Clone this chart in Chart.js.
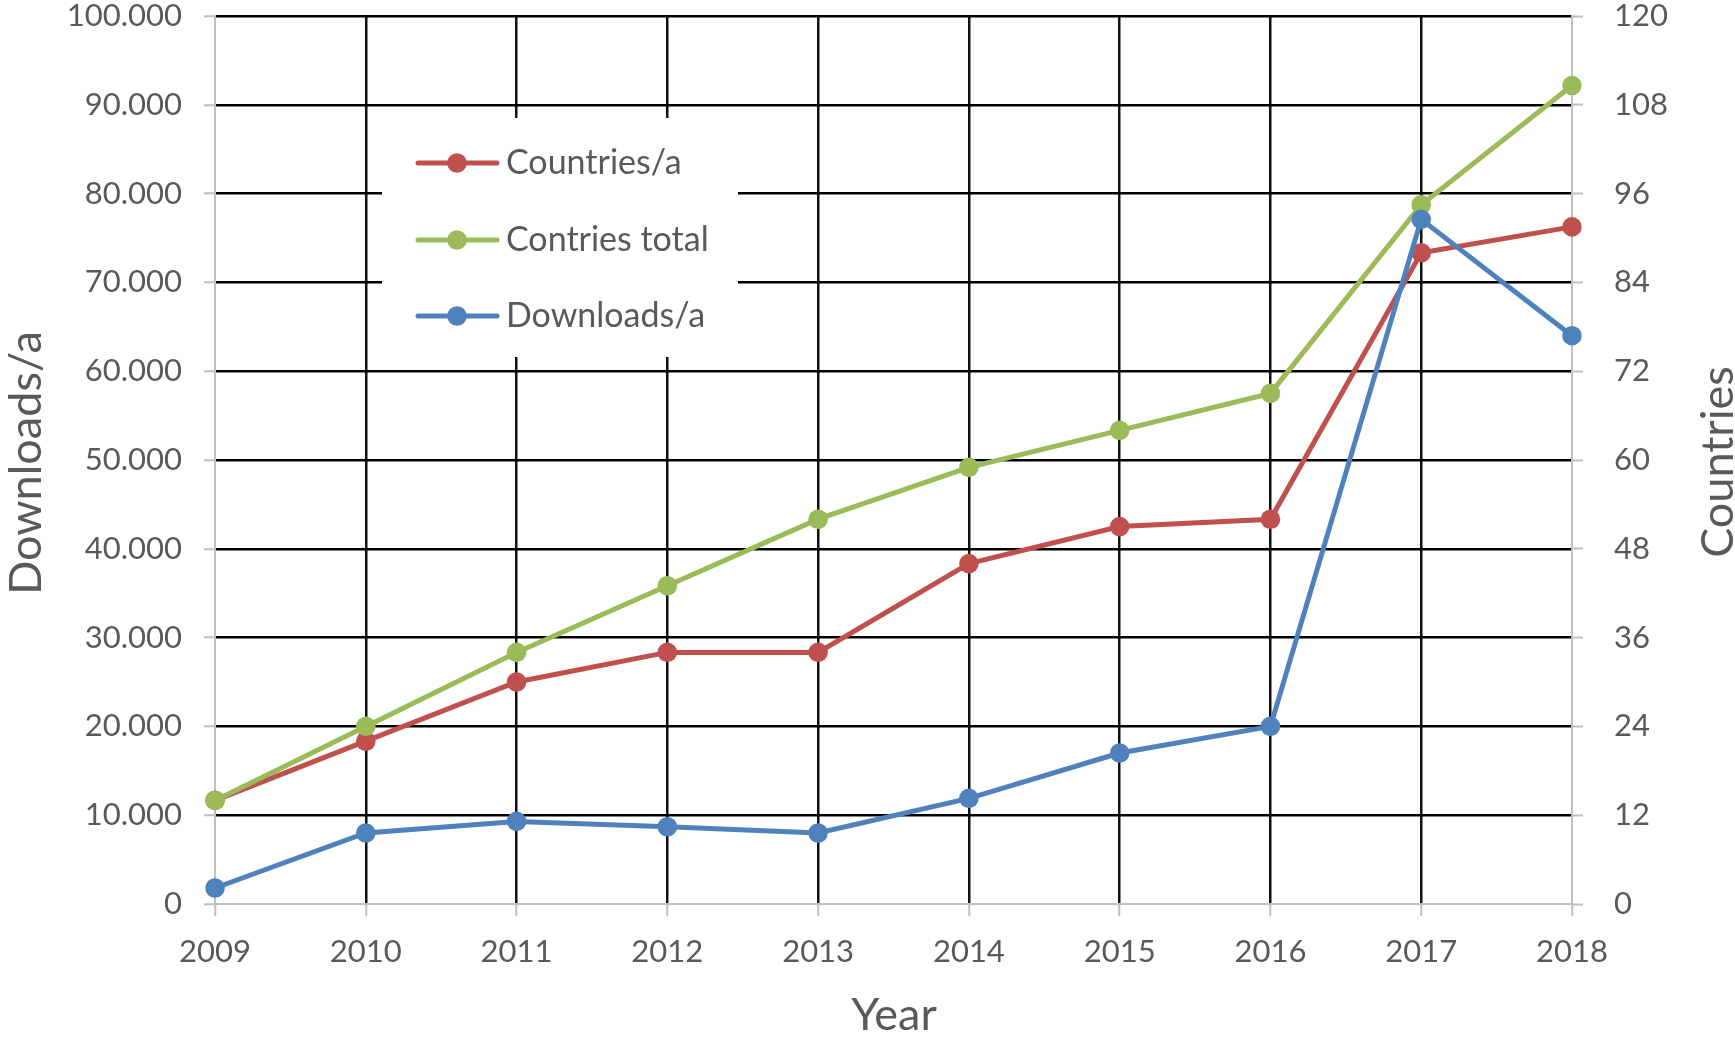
<!DOCTYPE html>
<html>
<head>
<meta charset="utf-8">
<title>Downloads and countries 2009-2018</title>
<script src="https://cdn.jsdelivr.net/npm/chart.js@4.4.1/dist/chart.umd.min.js"></script>
<style>
  html, body { margin: 0; padding: 0; background: #fff; }
  #wrap { width: 1735px; height: 1037px; }
</style>
</head>
<body>
<div id="wrap"><canvas id="chart" width="1735" height="1037"></canvas></div>
<script>
// years on the x axis
const years = ["2009", "2010", "2011", "2012", "2013", "2014", "2015", "2016", "2017", "2018"];

// downloads per year (left axis)
const downloadsPerYear = [1800, 8000, 9300, 8700, 8000, 11900, 17000, 20000, 77100, 64000];
// new countries per year and running total (right axis)
const countriesPerYear = [14, 22, 30, 34, 34, 46, 51, 52, 88, 91.5];
const countriesTotal = [14, 24, 34, 43, 52, 59, 64, 69, 94.5, 110.6];

const RED = "#C0504D";
const GREEN = "#9BBB59";
const BLUE = "#4F81BD";
const TEXT = "#595959";
const AXIS = "#BFBFBF";
const FONT = "Lato, 'Open Sans', sans-serif";

// "100.000" style thousands
const fmtThousands = (v) => String(v).replace(/\B(?=(\d{3})+(?!\d))/g, ".");

const legendItems = [
  { label: "Countries/a", color: RED },
  { label: "Contries total", color: GREEN },
  { label: "Downloads/a", color: BLUE },
];

// legend box sitting inside the plot
const legendBox = {
  id: "legendBox",
  afterDraw(chart) {
    const ctx = chart.ctx;
    ctx.save();
    ctx.fillStyle = "#fff";
    ctx.fillRect(382, 118, 356, 239);
    const rows = [163, 240, 316];
    legendItems.forEach((it, i) => {
      const y = rows[i];
      ctx.strokeStyle = it.color;
      ctx.lineWidth = 5;
      ctx.lineCap = "round";
      ctx.beginPath();
      ctx.moveTo(418, y);
      ctx.lineTo(497, y);
      ctx.stroke();
      ctx.fillStyle = it.color;
      ctx.beginPath();
      ctx.arc(457, y, 9.8, 0, Math.PI * 2);
      ctx.fill();
      ctx.fillStyle = TEXT;
      ctx.font = "34px " + FONT;
      ctx.textAlign = "left";
      ctx.textBaseline = "middle";
      ctx.fillText(it.label, 506, y);
    });
    ctx.restore();
  },
};

// axis titles (the right one reads bottom-to-top like the left one)
const axisTitles = {
  id: "axisTitles",
  afterDraw(chart) {
    const ctx = chart.ctx;
    ctx.save();
    ctx.fillStyle = TEXT;
    ctx.font = "45px " + FONT;
    ctx.textAlign = "center";
    ctx.textBaseline = "alphabetic";

    ctx.fillText("Year", 894, 1030);

    ctx.save();
    ctx.translate(41, 463);
    ctx.rotate(-Math.PI / 2);
    ctx.fillText("Downloads/a", 0, 0);
    ctx.restore();

    ctx.save();
    ctx.translate(1733, 462);
    ctx.rotate(-Math.PI / 2);
    ctx.fillText("Countries", 0, 0);
    ctx.restore();

    ctx.restore();
  },
};

// fixed scale sizes, no extra label padding pushed into the layout
const fixWidth = (w) => (s) => {
  s.width = w;
  s.paddingTop = 0;
  s.paddingBottom = 0;
};
const fixHeight = (h) => (s) => {
  s.height = h;
  s.paddingLeft = 0;
  s.paddingRight = 0;
};

const lastIdx = years.length - 1;

const lineStyle = (color) => ({
  borderColor: color,
  backgroundColor: color,
  borderWidth: 5,
  pointRadius: 9.8,
  pointHoverRadius: 9.8,
  pointBorderWidth: 0,
  tension: 0,
  fill: false,
});

new Chart(document.getElementById("chart").getContext("2d"), {
  type: "line",
  data: {
    labels: years,
    datasets: [
      { label: "Countries/a", data: countriesPerYear, yAxisID: "y2", order: 2, ...lineStyle(RED) },
      { label: "Contries total", data: countriesTotal, yAxisID: "y2", order: 1, ...lineStyle(GREEN) },
      { label: "Downloads/a", data: downloadsPerYear, yAxisID: "y", order: 0, ...lineStyle(BLUE) },
    ],
  },
  options: {
    responsive: false,
    animation: false,
    devicePixelRatio: 1,
    layout: { padding: { top: 16, left: 0, right: 0, bottom: 0 } },
    plugins: {
      legend: { display: false },
      tooltip: { enabled: false },
    },
    scales: {
      x: {
        type: "category",
        offset: false,
        afterFit: fixHeight(133),
        grid: {
          color: (c) => (c.index === 0 || c.index === lastIdx ? "rgba(0,0,0,0)" : "#111"),
          lineWidth: 2.5,
          tickColor: AXIS,
          tickLength: 12,
          tickWidth: 2,
        },
        border: { color: AXIS, width: 2 },
        ticks: {
          color: TEXT,
          font: { family: FONT, size: 31 },
          padding: 17,
          maxRotation: 0,
          autoSkip: false,
        },
      },
      y: {
        position: "left",
        min: 0,
        max: 100000,
        afterFit: fixWidth(215),
        grid: {
          color: (c) => (c.index === 0 ? "rgba(0,0,0,0)" : "#000"),
          lineWidth: 2.5,
          tickColor: AXIS,
          tickLength: 11,
          tickWidth: 2,
        },
        border: { color: AXIS, width: 2 },
        ticks: {
          stepSize: 10000,
          color: TEXT,
          font: { family: FONT, size: 31 },
          padding: 22,
          callback: (v) => fmtThousands(v),
        },
      },
      y2: {
        position: "right",
        min: 0,
        max: 120,
        afterFit: fixWidth(163),
        grid: {
          drawOnChartArea: false,
          tickColor: AXIS,
          tickLength: 11,
          tickWidth: 2,
        },
        border: { color: AXIS, width: 2 },
        ticks: {
          stepSize: 12,
          color: TEXT,
          font: { family: FONT, size: 31 },
          padding: 31,
        },
      },
    },
  },
  plugins: [legendBox, axisTitles],
});
</script>
</body>
</html>
